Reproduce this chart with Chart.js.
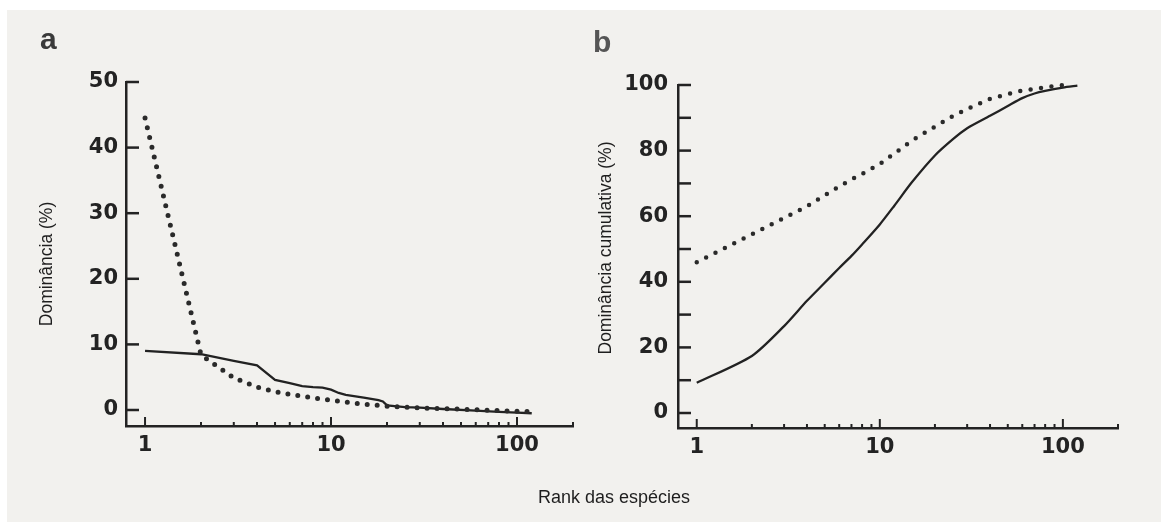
<!DOCTYPE html>
<html>
<head>
<meta charset="utf-8">
<script src="https://cdn.jsdelivr.net/npm/chart.js@4"></script>
<style>
  html, body { margin: 0; padding: 0; background: #fff; }
  #page { position: relative; width: 1161px; height: 522px; overflow: hidden; }
  #scan { position: absolute; left: 7px; top: 10px; right: 0; bottom: 0; background: #f2f1ee; }
  .panel { position: absolute; top: 0; height: 522px; }
  .letter { position: absolute; font: bold 30px "Liberation Sans", Arial, sans-serif; line-height: 30px; }
  .ytitle { position: absolute; font: 17.5px "Liberation Sans", Arial, sans-serif; color: #1e1e1e;
            transform: translate(-50%, -50%) rotate(-90deg); white-space: nowrap; }
  #xtitle { position: absolute; left: 538px; top: 488px; font: 18px "Liberation Sans", Arial, sans-serif;
            line-height: 18px; color: #1e1e1e; white-space: nowrap; }
</style>
</head>
<body>
<div id="page">
  <div id="scan"></div>
  <div class="panel" style="left:0;width:580px"><canvas id="chartA" width="580" height="522"></canvas></div>
  <div class="panel" style="left:580px;width:581px"><canvas id="chartB" width="581" height="522"></canvas></div>
  <div class="letter" style="left:40px;top:24px;color:#3a3a3a">a</div>
  <div class="letter" style="left:593px;top:27px;color:#555">b</div>
  <div class="ytitle" style="left:46px;top:264px">Dominância (%)</div>
  <div class="ytitle" style="left:605px;top:248px">Dominância cumulativa (%)</div>
  <div id="xtitle">Rank das espécies</div>
</div>
<script>
// panel a - dominance by species rank
const rankDotA = [1, 2, 3, 4, 5, 6, 7, 8, 9, 10, 12, 15, 18, 20, 25, 30, 40, 60, 80, 100, 115];
const domDotA = [44.5, 8.4, 4.9, 3.5, 2.8, 2.4, 2.1, 1.85, 1.65, 1.5, 1.2, 0.9, 0.7, 0.57, 0.42, 0.32, 0.2, 0.05, -0.1, -0.2, -0.25];
const rankSolidA = [1, 2, 3, 4, 5, 6, 7, 8, 9, 10, 11, 12, 15, 18, 19, 20, 25, 30, 40, 60, 80, 100, 120];
const domSolidA = [9.0, 8.5, 7.5, 6.8, 4.6, 4.1, 3.65, 3.5, 3.4, 3.1, 2.6, 2.3, 1.9, 1.5, 1.3, 0.7, 0.45, 0.35, 0.15, -0.1, -0.3, -0.4, -0.5];

// panel b - cumulative dominance
const rankDotB = [1, 2, 3, 4, 5, 6, 7, 8, 10, 12, 15, 20, 25, 30, 40, 50, 60, 80, 100];
const cumDotB = [46, 54.5, 59.5, 63, 66.4, 69.1, 71.2, 72.9, 75.9, 79.1, 83.1, 87.3, 90.5, 92.7, 95.8, 97.2, 98.3, 99.3, 100];
const rankSolidB = [1, 2, 3, 4, 5, 6, 7, 8, 10, 12, 15, 20, 25, 30, 40, 50, 60, 70, 80, 100, 120];
const cumSolidB = [9.2, 17.4, 26.5, 34.2, 39.7, 44.2, 47.9, 51.4, 57.5, 63.2, 70.4, 78.5, 83.4, 86.8, 90.6, 93.6, 96.0, 97.4, 98.2, 99.2, 99.8];

// axes
const xTicks = [1, 2, 3, 4, 5, 6, 7, 8, 9, 10, 20, 30, 40, 50, 60, 70, 80, 90, 100, 200];
const xLabels = [1, 10, 100];
const yTicksA = [0, 10, 20, 30, 40, 50];
const yTicksB = [0, 10, 20, 30, 40, 50, 60, 70, 80, 90, 100];
const yLabelsB = [0, 20, 40, 60, 80, 100];

const ink = '#232323';
const tickFont = { family: '"DejaVu Sans", sans-serif', size: 21, weight: 'bold' };

const pts = (xs, ys) => xs.map((x, i) => ({ x: x, y: ys[i] }));

// inward tick marks, placed with the chart's own scales
const tickMarks = {
  id: 'tickMarks',
  afterDraw(chart) {
    const { ctx, chartArea, scales: { x, y } } = chart;
    ctx.save();
    ctx.strokeStyle = ink;
    ctx.lineWidth = 2;
    x.ticks.forEach(t => {
      const px = x.getPixelForValue(t.value);
      const len = xLabels.includes(t.value) ? 9 : 4;
      ctx.beginPath();
      ctx.moveTo(px, chartArea.bottom);
      ctx.lineTo(px, chartArea.bottom - len);
      ctx.stroke();
    });
    ctx.lineWidth = 2.5;
    y.ticks.forEach(t => {
      const py = y.getPixelForValue(t.value);
      ctx.beginPath();
      ctx.moveTo(chartArea.left, py);
      ctx.lineTo(chartArea.left + 13, py);
      ctx.stroke();
    });
    ctx.restore();
  }
};

function makeChart(id, cfg) {
  return new Chart(document.getElementById(id), {
    type: 'scatter',
    data: {
      datasets: [
        {
          data: cfg.dotted, showLine: true, pointRadius: 0, borderColor: '#2a2a2a',
          borderWidth: cfg.dotWidth, borderDash: [0, cfg.dotGap], borderCapStyle: 'round',
          tension: 0, clip: false
        },
        {
          data: cfg.solid, showLine: true, pointRadius: 0, borderColor: '#222',
          borderWidth: 2.3, tension: cfg.tension, clip: false
        }
      ]
    },
    options: {
      responsive: false,
      animation: false,
      events: [],
      layout: { padding: cfg.padding },
      plugins: { legend: { display: false }, tooltip: { enabled: false } },
      scales: {
        x: {
          type: 'logarithmic', min: 0.79, max: 200,
          afterBuildTicks: s => { s.ticks = xTicks.map(v => ({ value: v })); },
          afterFit: s => { s.height = 40; },
          ticks: {
            autoSkip: false, maxRotation: 0, padding: 7, color: ink, font: tickFont,
            callback: v => xLabels.includes(v) ? String(v) : ''
          },
          grid: { display: false, drawTicks: false },
          border: { color: ink, width: 2.5 }
        },
        y: {
          min: cfg.yMin, max: cfg.yMax,
          afterBuildTicks: s => { s.ticks = cfg.yTicks.map(v => ({ value: v })); },
          afterFit: s => { s.width = cfg.yWidth; },
          ticks: {
            autoSkip: false, padding: cfg.yPad, color: ink, font: tickFont,
            callback: v => cfg.yLabels.includes(v) ? String(v) : ''
          },
          grid: { display: false, drawTicks: false },
          border: { color: ink, width: 2.5 }
        }
      }
    },
    plugins: [tickMarks]
  });
}

makeChart('chartA', {
  dotted: pts(rankDotA, domDotA), solid: pts(rankSolidA, domSolidA),
  dotWidth: 5, dotGap: 10, tension: 0,
  padding: { left: 0, top: 82, right: 5, bottom: 56 },
  yMin: -2.44, yMax: 50, yTicks: yTicksA, yLabels: yTicksA, yWidth: 126, yPad: 8
});

makeChart('chartB', {
  dotted: pts(rankDotB, cumDotB), solid: pts(rankSolidB, cumSolidB),
  dotWidth: 4.5, dotGap: 10.5, tension: 0.25,
  padding: { left: 0, top: 85, right: 43, bottom: 54 },
  yMin: -4.57, yMax: 100, yTicks: yTicksB, yLabels: yLabelsB, yWidth: 98, yPad: 10
});
</script>
</body>
</html>
